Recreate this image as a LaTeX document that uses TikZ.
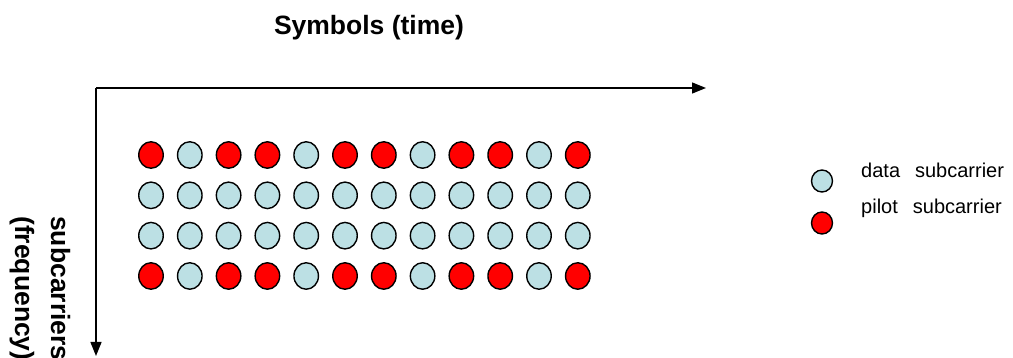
\documentclass[tikz,border=0pt]{standalone}
\usepackage{fontspec}
\setmainfont{Liberation Sans}
\usetikzlibrary{arrows.meta,shapes.geometric}
\definecolor{datafill}{RGB}{188,224,228}
\definecolor{pilotfill}{RGB}{255,0,0}
\begin{document}
\begin{tikzpicture}[x=1pt,y=-1pt,
  dot/.style={ellipse,draw=black,line width=1.4pt,inner sep=0pt,minimum width=24.5pt,minimum height=26.5pt},
  data/.style={dot,fill=datafill},
  pilot/.style={dot,fill=pilotfill},
  legdata/.style={data,minimum width=21pt,minimum height=22pt},
  legpilot/.style={pilot,minimum width=21pt,minimum height=22pt},
  axis/.style={line width=1.3pt,-{Triangle[length=14pt,width=11pt]}},
  bigbold/.style={font=\bfseries\fontsize{26.5}{36}\selectfont},
  legtext/.style={font=\fontsize{20}{24}\selectfont,inner sep=0pt,anchor=base west}]
\useasboundingbox (0,0) rectangle (1013,358);
% axes
\coordinate (O) at (96,88);
\coordinate (xend) at (706,88);
\coordinate (yend) at (96,356);
\draw[axis] (O) -- (xend);
\draw[axis] (O) -- (yend);
\node[bigbold] (title) at (369,28) {Symbols (time)};
\node[bigbold,rotate=-90,align=center,anchor=west,inner sep=0pt] (ylabel) at (40,216) {subcarriers\\(frequency)};
% grid of subcarriers
\foreach \c in {0,...,11}{
  \foreach \r in {0,...,3}{
    \pgfmathtruncatemacro\ispilot{((\r==0)||(\r==3))&&(mod(\c,3)!=1)}
    \ifnum\ispilot=1 \def\sty{pilot}\else\def\sty{data}\fi
    \node[\sty] (c-\r-\c) at ({151+38.8*\c},{155+40.33*\r}) {};
  }
}
% legend
\node[legdata] (ld) at (822,181) {};
\node[legpilot] (lp) at (822,223) {};
\node[legtext] (ldt) at (861,178) {data\hspace{15pt}subcarrier};
\node[legtext] (lpt) at (861,214) {pilot\hspace{15pt}subcarrier};
\end{tikzpicture}
\end{document}
